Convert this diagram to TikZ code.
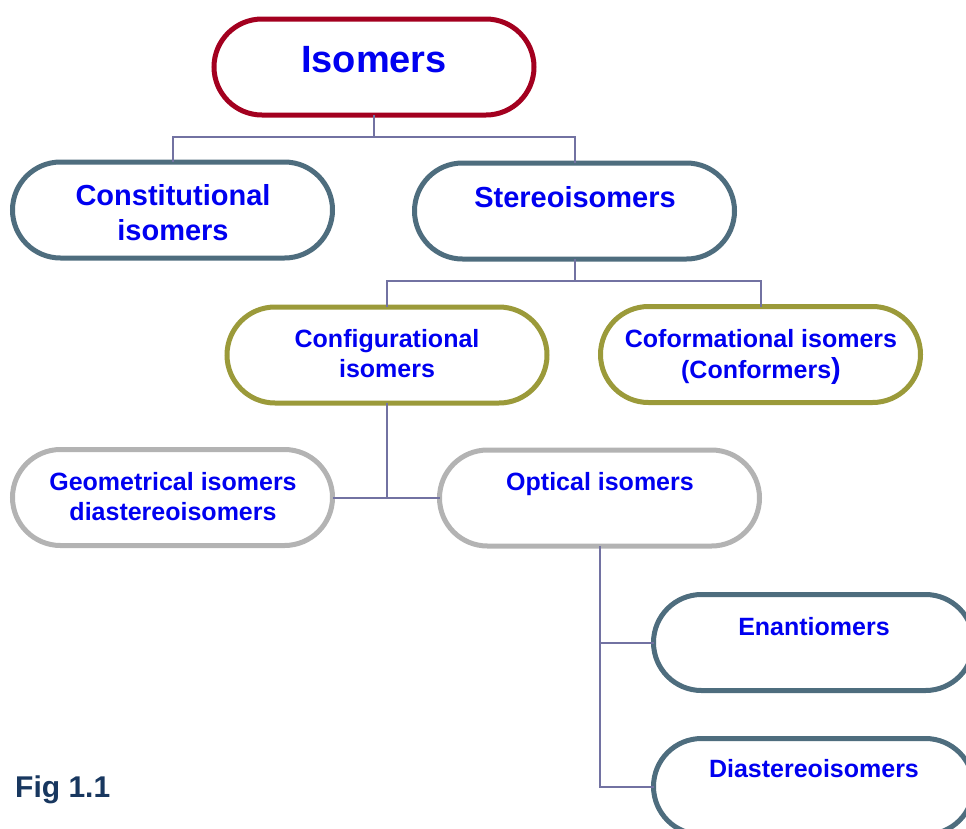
\documentclass[tikz,border=0pt]{standalone}
\usepackage{fontspec}
\setmainfont{Liberation Sans}
\definecolor{redb}{HTML}{A3001F}
\definecolor{slateb}{HTML}{4E6D7E}
\definecolor{oliveb}{HTML}{9B9A3A}
\definecolor{grayb}{HTML}{B3B3B3}
\definecolor{linec}{HTML}{7272A2}
\definecolor{txtb}{HTML}{0000F0}
\definecolor{figc}{HTML}{18375F}
\tikzset{
  pill/.style={draw=#1, line width=5pt, fill=white, rectangle, rounded corners=48pt,
    minimum width=320pt, minimum height=96pt, inner sep=0pt, outer sep=0pt},
  conn/.style={draw=linec, line width=2pt},
  lbl/.style={text=txtb, font=\bfseries, align=center, anchor=base, inner sep=0pt},
}
\begin{document}
\begin{tikzpicture}[x=1pt,y=-1pt]
\useasboundingbox (0,0) rectangle (966,828);
\clip (0,0) rectangle (966,828);
% boxes
\node[pill=redb]   (iso)    at (374,67) {};
\node[pill=slateb] (const)  at (172.5,210) {};
\node[pill=slateb] (stereo) at (574.5,211) {};
\node[pill=oliveb] (config) at (387,355) {};
\node[pill=oliveb] (conf)   at (760.5,354.5) {};
\node[pill=grayb]  (geo)    at (172.5,497.5) {};
\node[pill=grayb]  (opt)    at (599.5,498) {};
\node[pill=slateb] (enan)   at (813.5,642.5) {};
\node[pill=slateb] (dia)    at (813.5,786.5) {};
% connectors
\draw[conn] (iso.south) -- ++(0,22) -| (const.north);
\draw[conn] (iso.south) -- ++(0,22) -| (stereo.north);
\draw[conn] (stereo.south) -- ++(0,22) -| (config.north);
\draw[conn] (stereo.south) -- ++(0,22) -| (conf.north);
\draw[conn] (config.south) |- (geo.east);
\draw[conn] (config.south) |- (opt.west);
\draw[conn] (opt.south) |- (enan.west);
\draw[conn] (opt.south) |- (dia.west);
% labels
\node[lbl, font=\fontsize{38}{44}\selectfont\bfseries] (tiso) at (374,72) {Isomers};
\node[lbl, font=\fontsize{29}{35}\selectfont\bfseries] (tconst) at (173,240) {Constitutional\\isomers};
\node[lbl, font=\fontsize{29}{35}\selectfont\bfseries] (tstereo) at (575,207) {Stereoisomers};
\node[lbl, font=\fontsize{25}{30}\selectfont\bfseries] (tconfig) at (387,377) {Configurational\\isomers};
\node[lbl, font=\fontsize{25}{31}\selectfont\bfseries] (tconf) at (761,378) {Coformational isomers\\(Conformers{\fontsize{29}{31}\selectfont)}};
\node[lbl, font=\fontsize{25}{30}\selectfont\bfseries] (tgeo) at (173,520) {Geometrical isomers\\diastereoisomers};
\node[lbl, font=\fontsize{25}{30}\selectfont\bfseries] (topt) at (600,490) {Optical isomers};
\node[lbl, font=\fontsize{25}{30}\selectfont\bfseries] (tenan) at (814,635) {Enantiomers};
\node[lbl, font=\fontsize{25}{30}\selectfont\bfseries] (tdia) at (814,777) {Diastereoisomers};
\node[text=figc, font=\fontsize{30}{36}\selectfont\bfseries, anchor=base west, inner sep=0pt] (fig) at (15,797) {Fig 1.1};
\end{tikzpicture}
\end{document}
